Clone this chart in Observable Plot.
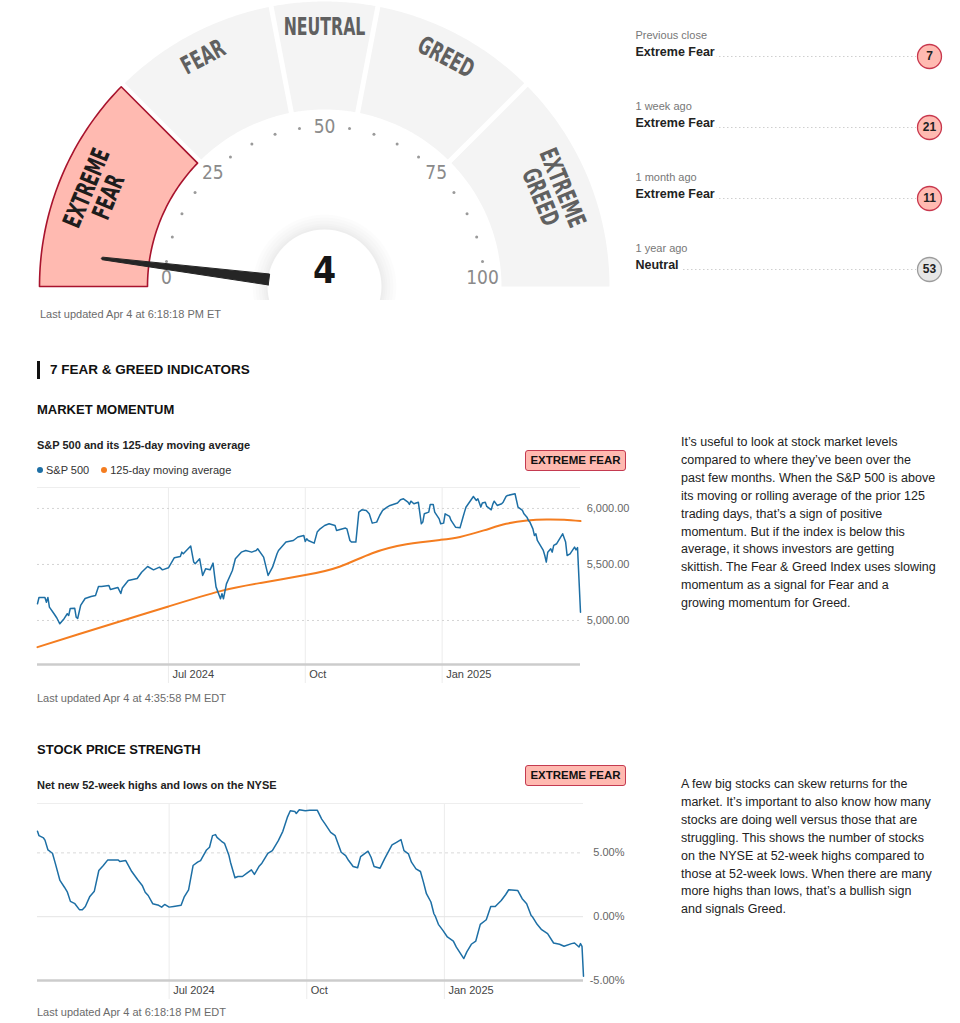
<!DOCTYPE html>
<html><head><meta charset="utf-8">
<script src="https://cdn.jsdelivr.net/npm/d3@7"></script>
<script src="https://cdn.jsdelivr.net/npm/@observablehq/plot@0.6"></script>
<style>
body{margin:0;background:#fff;font-family:"Liberation Sans",Arial,Helvetica,sans-serif;}
#page{position:relative;width:960px;height:1023px;overflow:hidden;background:#fff;}
.abs{position:absolute;white-space:nowrap;}
.badge{position:absolute;width:99px;height:19px;line-height:19px;text-align:center;font-weight:bold;font-size:11.5px;color:#111;background:#ffb9b0;border:1px solid #c43a50;border-radius:3px;}
.para{position:absolute;font-size:12.5px;line-height:17.9px;color:#222;white-space:nowrap;}
.legend-dot{display:inline-block;width:6px;height:6px;border-radius:50%;margin-right:3px;vertical-align:1px;}
</style></head>
<body><div id="page"></div>
<script>
// ---------------- DATA ----------------
const gaugeSegmentLabels = ["EXTREME\nFEAR", "FEAR", "NEUTRAL", "GREED", "EXTREME\nGREED"];
const gaugeSegmentBounds = [0, 25, 44, 56, 75, 100];
const gaugeTickLabels = [0, 25, 50, 75, 100];
const currentValue = 4;

const historyWhen = ["Previous close", "1 week ago", "1 month ago", "1 year ago"];
const historyRating = ["Extreme Fear", "Extreme Fear", "Extreme Fear", "Neutral"];
const historyValue = [7, 21, 11, 53];

const xDomain = ["2024-04-04", "2025-04-04"];
const xTickDates = ["2024-07-01", "2024-10-01", "2025-01-01"];
const xTickLabels = ["Jul 2024", "Oct", "Jan 2025"];

const spxTicks = [5000, 5500, 6000];
const spxDomain = [4607, 6187];
const spxDates = ["2024-04-04","2024-04-05","2024-04-09","2024-04-10","2024-04-11","2024-04-12","2024-04-15","2024-04-17","2024-04-19","2024-04-22","2024-04-24","2024-04-25","2024-04-26","2024-04-29","2024-04-30","2024-05-01","2024-05-03","2024-05-06","2024-05-10","2024-05-13","2024-05-15","2024-05-17","2024-05-22","2024-05-23","2024-05-28","2024-05-30","2024-05-31","2024-06-04","2024-06-10","2024-06-13","2024-06-17","2024-06-21","2024-06-25","2024-06-27","2024-07-01","2024-07-05","2024-07-09","2024-07-10","2024-07-11","2024-07-16","2024-07-18","2024-07-19","2024-07-22","2024-07-24","2024-07-26","2024-07-29","2024-07-31","2024-08-01","2024-08-02","2024-08-05","2024-08-06","2024-08-07","2024-08-09","2024-08-13","2024-08-15","2024-08-19","2024-08-22","2024-08-26","2024-08-29","2024-08-30","2024-09-03","2024-09-06","2024-09-09","2024-09-12","2024-09-13","2024-09-18","2024-09-23","2024-09-26","2024-09-30","2024-10-01","2024-10-02","2024-10-03","2024-10-07","2024-10-09","2024-10-11","2024-10-14","2024-10-17","2024-10-21","2024-10-22","2024-10-28","2024-10-29","2024-10-31","2024-11-01","2024-11-04","2024-11-06","2024-11-08","2024-11-11","2024-11-13","2024-11-15","2024-11-18","2024-11-20","2024-11-22","2024-11-25","2024-11-27","2024-12-02","2024-12-04","2024-12-06","2024-12-09","2024-12-10","2024-12-11","2024-12-13","2024-12-16","2024-12-18","2024-12-19","2024-12-20","2024-12-23","2024-12-24","2024-12-26","2024-12-27","2024-12-30","2024-12-31","2025-01-02","2025-01-03","2025-01-06","2025-01-07","2025-01-10","2025-01-13","2025-01-15","2025-01-16","2025-01-17","2025-01-22","2025-01-24","2025-01-25","2025-01-27","2025-01-28","2025-01-30","2025-01-31","2025-02-03","2025-02-04","2025-02-05","2025-02-07","2025-02-10","2025-02-11","2025-02-13","2025-02-14","2025-02-19","2025-02-21","2025-02-24","2025-02-25","2025-02-27","2025-02-28","2025-03-01","2025-03-03","2025-03-04","2025-03-05","2025-03-06","2025-03-10","2025-03-11","2025-03-12","2025-03-13","2025-03-15","2025-03-16","2025-03-17","2025-03-19","2025-03-23","2025-03-25","2025-03-26","2025-03-28","2025-03-31","2025-04-01","2025-04-02","2025-04-04"];
const spxValues = [5149,5205,5205,5163,5205,5119,5062,5022,4970,5018,5060,5045,5107,5110,5030,5018,5134,5196,5214,5223,5304,5304,5312,5277,5295,5241,5290,5357,5375,5431,5482,5452,5476,5452,5470,5560,5571,5610,5595,5664,5521,5506,5550,5402,5461,5452,5512,5402,5300,5194,5238,5194,5327,5446,5551,5610,5625,5610,5625,5640,5565,5402,5476,5595,5625,5700,5714,5745,5759,5705,5729,5714,5690,5789,5818,5848,5863,5848,5804,5825,5818,5714,5700,5700,5967,5988,5982,5952,5869,5878,5937,5982,6011,6027,6048,6078,6086,6056,6036,6065,6042,6056,5863,5878,5952,5967,6036,6036,5967,5907,5863,5869,5952,5929,5893,5833,5827,5922,5967,6011,6107,6071,6086,6012,6048,6056,6018,5988,6036,6065,6027,6042,6056,6107,6116,6131,6012,5982,5952,5922,5893,5878,5818,5759,5774,5714,5625,5580,5521,5610,5640,5610,5670,5685,5774,5700,5580,5595,5655,5630,5650,5074];

const maDates = ["2024-04-04","2024-05-01","2024-06-01","2024-07-01","2024-08-05","2024-09-01","2024-10-01","2024-10-24","2024-11-15","2024-12-08","2024-12-31","2025-01-13","2025-01-29","2025-02-13","2025-02-27","2025-03-12","2025-03-24","2025-04-04"];
const maValues = [4762,4875,5002,5125,5262,5335,5405,5480,5600,5680,5720,5746,5804,5863,5893,5902,5899,5887];

const nyseTicks = [-5, 0, 5];
const nyseDomain = [-5, 8.87];
const nyseDates = ["2024-04-04","2024-04-05","2024-04-08","2024-04-09","2024-04-11","2024-04-14","2024-04-16","2024-04-19","2024-04-22","2024-04-24","2024-04-26","2024-04-29","2024-05-02","2024-05-04","2024-05-06","2024-05-09","2024-05-12","2024-05-15","2024-05-18","2024-05-21","2024-05-28","2024-05-29","2024-06-02","2024-06-06","2024-06-10","2024-06-13","2024-06-15","2024-06-17","2024-06-20","2024-06-24","2024-06-26","2024-06-28","2024-07-01","2024-07-04","2024-07-09","2024-07-11","2024-07-14","2024-07-17","2024-07-20","2024-07-22","2024-07-26","2024-07-28","2024-07-30","2024-08-01","2024-08-02","2024-08-05","2024-08-07","2024-08-10","2024-08-11","2024-08-14","2024-08-16","2024-08-19","2024-08-22","2024-08-25","2024-08-27","2024-08-30","2024-09-01","2024-09-05","2024-09-08","2024-09-12","2024-09-15","2024-09-18","2024-09-20","2024-09-23","2024-09-24","2024-09-26","2024-09-30","2024-10-03","2024-10-08","2024-10-11","2024-10-13","2024-10-17","2024-10-20","2024-10-24","2024-10-27","2024-10-29","2024-11-01","2024-11-04","2024-11-06","2024-11-11","2024-11-13","2024-11-15","2024-11-19","2024-11-22","2024-11-27","2024-11-30","2024-12-03","2024-12-05","2024-12-08","2024-12-10","2024-12-13","2024-12-16","2024-12-18","2024-12-20","2024-12-23","2024-12-25","2024-12-26","2024-12-28","2024-12-31","2025-01-03","2025-01-07","2025-01-09","2025-01-14","2025-01-16","2025-01-19","2025-01-22","2025-01-25","2025-01-29","2025-02-01","2025-02-04","2025-02-08","2025-02-11","2025-02-13","2025-02-19","2025-02-22","2025-02-25","2025-02-28","2025-03-01","2025-03-04","2025-03-07","2025-03-11","2025-03-15","2025-03-19","2025-03-22","2025-03-27","2025-03-29","2025-04-01","2025-04-02","2025-04-03","2025-04-04"];
const nyseValues = [6.69,6.35,6.17,6.0,5.23,4.97,4.14,2.84,2.31,1.92,1.20,1.02,0.55,0.55,0.80,1.59,2.0,3.62,4.01,4.45,4.45,4.33,4.40,3.54,2.89,2.45,1.92,1.66,1.02,0.89,0.75,0.96,0.75,0.80,0.89,1.53,2.11,4.01,4.27,4.40,5.23,5.44,6.35,6.43,6.22,5.91,5.75,4.79,4.27,3.05,3.15,3.15,3.41,3.67,3.31,3.93,4.19,4.97,5.18,5.96,6.69,7.78,8.30,8.25,8.09,8.38,8.30,8.35,8.35,7.65,7.31,6.61,6.35,5.05,4.79,4.40,3.93,3.83,4.71,5.13,4.66,3.93,3.80,4.53,5.62,5.83,6.04,5.18,4.92,4.27,3.75,3.54,2.71,1.80,1.15,0.23,0.02,-0.60,-1.07,-1.59,-1.91,-2.38,-3.28,-2.76,-2.16,-1.91,-0.60,-0.24,0.80,0.80,1.27,1.74,2.11,2.06,1.41,1.02,0.10,-0.03,-0.60,-1.02,-1.33,-2.06,-2.16,-2.32,-2.11,-2.06,-2.38,-2.11,-2.32,-4.66];

// ---------------- HELPERS ----------------
const page = document.getElementById("page");
const SANS = '"Liberation Sans", Arial, Helvetica, sans-serif';
const NARROW = '"Liberation Sans Narrow", "Arial Narrow", "DejaVu Sans Condensed", "Liberation Sans", sans-serif';
function put(node, left, top) {
  node.style.position = "absolute";
  node.style.left = left + "px";
  node.style.top = top + "px";
  page.appendChild(node);
  return node;
}
function label(text, left, centerY, size, weight, color) {
  const d = document.createElement("div");
  d.className = "abs";
  d.textContent = text;
  const lh = Math.round(size * 1.3);
  Object.assign(d.style, {fontSize: size + "px", lineHeight: lh + "px", fontWeight: weight, color});
  return put(d, left, centerY - lh / 2);
}
const parse = s => new Date(s + "T00:00:00Z");

// ---------------- GAUGE ----------------
const GW = 620, GH = 300, gcx = 324, gcy = 286;
const Ro = 285, Ri = 177;
const ang = v => Math.PI * (1 - v / 100);

function segPolygon(a, b, i) {
  const g = 2.5, n = 48, pts = [];
  const ga = a === 0 ? 0 : g, gb = b === 100 ? 0 : g;
  const o0 = ang(a) - ga / Ro, o1 = ang(b) + gb / Ro;
  const i0 = ang(b) + gb / Ri, i1 = ang(a) - ga / Ri;
  for (let k = 0; k <= n; k++) { const t = o0 + (o1 - o0) * k / n; pts.push({seg: i, x: Ro * Math.cos(t), y: Ro * Math.sin(t)}); }
  for (let k = 0; k <= n; k++) { const t = i0 + (i1 - i0) * k / n; pts.push({seg: i, x: Ri * Math.cos(t), y: Ri * Math.sin(t)}); }
  pts.push({...pts[0]});
  return pts;
}
const activeSeg = gaugeSegmentLabels.findIndex((_, i) => currentValue >= gaugeSegmentBounds[i] && currentValue < gaugeSegmentBounds[i + 1]);
let activePts = [], otherPts = [];
gaugeSegmentLabels.forEach((_, i) => {
  const p = segPolygon(gaugeSegmentBounds[i], gaugeSegmentBounds[i + 1], i);
  if (i === activeSeg) activePts = activePts.concat(p); else otherPts = otherPts.concat(p);
});
const segLabelData = gaugeSegmentLabels.map((t, i) => {
  const mid = (gaugeSegmentBounds[i] + gaugeSegmentBounds[i + 1]) / 2;
  const r = t.includes("\n") ? 245 : 259;
  const th = ang(mid);
  return {text: t, x: r * Math.cos(th), y: r * Math.sin(th), rotate: 90 - th * 180 / Math.PI, active: i === activeSeg};
});
const tickDots = d3.range(0, 101, 5).filter(v => !gaugeTickLabels.includes(v)).map(v => ({x: 160 * Math.cos(ang(v)), y: 160 * Math.sin(ang(v))}));
const tickLabelData = gaugeTickLabels.map(v => ({v, x: 158 * Math.cos(ang(v)), y: Math.max(160 * Math.sin(ang(v)), 9)}));
const nt = ang(currentValue), ux = Math.cos(nt), uy = Math.sin(nt), px = -uy, py = ux;
const needle = [
  {x: 56 * ux + 5.5 * px, y: 56 * uy + 5.5 * py},
  {x: 224 * ux + 1.3 * px, y: 224 * uy + 1.3 * py},
  {x: 225 * ux, y: 225 * uy},
  {x: 224 * ux - 1.3 * px, y: 224 * uy - 1.3 * py},
  {x: 56 * ux - 5.5 * px, y: 56 * uy - 5.5 * py}
];
needle.push({...needle[0]});
const glowRadii = [72, 69, 66, 63, 61, 59];

const gauge = Plot.plot({
  width: GW, height: GH, margin: 0,
  x: {domain: [-gcx, GW - gcx], range: [0, GW]},
  y: {domain: [-(GH - gcy), gcy], range: [GH, 0]},
  axis: null,
  style: {fontFamily: SANS, background: "transparent"},
  marks: [
    Plot.line(otherPts, {x: "x", y: "y", z: "seg", fill: "#f4f4f4", stroke: "none"}),
    Plot.line(activePts, {x: "x", y: "y", z: "seg", fill: "#ffbab1", stroke: "#a8132d", strokeWidth: 1.6}),
    Plot.text(segLabelData, {x: "x", y: "y", text: "text", rotate: "rotate", fill: d => d.active ? "#1d1d1d" : "#606060", fontSize: 25, fontWeight: "bold", lineHeight: 0.95, fontFamily: NARROW}),
    Plot.dot(tickDots, {x: "x", y: "y", r: 1.5, fill: "#9a9a9a", stroke: "none"}),
    Plot.text(tickLabelData, {x: "x", y: "y", text: d => String(d.v), fill: "#8a8a8a", fontSize: 19, fontFamily: NARROW}),
    ...glowRadii.map(r => Plot.dot([0], {x: 0, y: 0, r, fill: "#000", fillOpacity: 0.012, stroke: "none"})),
    Plot.dot([0], {x: 0, y: 0, r: 57, fill: "#fff", stroke: "none"}),
    Plot.line(needle, {x: "x", y: "y", fill: "#252525", stroke: "#252525", strokeWidth: 1}),
    Plot.text([currentValue], {x: 0, y: 0, dy: -15, text: d => String(d), fontSize: 37, fontWeight: "bold", fill: "#161616", fontFamily: NARROW})
  ]
});
// condensed look for the segment labels
const textGroups = gauge.querySelectorAll('g[aria-label="text"]');
if (textGroups.length) textGroups[0].querySelectorAll("text").forEach(t => t.setAttribute("transform", (t.getAttribute("transform") || "") + " scale(0.7,1)"));
put(gauge, 0, 0);
label("Last updated Apr 4 at 6:18:18 PM ET", 40, 314, 11, "normal", "#6b6b6b");

// ---------------- HISTORY ----------------
const hist = historyWhen.map((w, i) => ({when: w, rating: historyRating[i], value: historyValue[i]}));
const ratingFill = r => r === "Neutral" ? "#e6e6e6" : "#ffbab1";
const ratingStroke = r => r === "Neutral" ? "#9c9c9c" : "#c8374d";
const history = Plot.plot({
  width: 340, height: 290, margin: 0,
  x: {domain: [0, 340], range: [0, 340]},
  y: {type: "point", domain: historyWhen, range: [35, 248], padding: 0},
  color: {type: "identity"},
  axis: null,
  style: {fontFamily: SANS, background: "transparent"},
  marks: [
    Plot.ruleY(hist, {y: "when", dy: 21, x1: 15, x2: 296, stroke: "#cfcfcf", strokeDasharray: "1.5,2.5"}),
    Plot.text(hist, {x: 15, y: "when", text: "when", textAnchor: "start", fill: "#777", fontSize: 11}),
    Plot.text(hist, {x: 15, y: "when", dy: 16.5, text: "rating", textAnchor: "start", fontWeight: "bold", fontSize: 12.5, fill: "#222", stroke: "white", strokeWidth: 8}),
    Plot.dot(hist, {x: 309, y: "when", dy: 21, r: 12, fill: d => ratingFill(d.rating), stroke: d => ratingStroke(d.rating), strokeWidth: 1.3}),
    Plot.text(hist, {x: 309, y: "when", dy: 21, text: d => String(d.value), fontWeight: "bold", fontSize: 12, fill: "#222"})
  ]
});
put(history, 620, 0);

// ---------------- SECTION HEADERS ----------------
const bar = document.createElement("div");
Object.assign(bar.style, {width: "3px", height: "18px", background: "#111"});
put(bar, 37, 361);
label("7 FEAR & GREED INDICATORS", 50, 370, 13.5, "bold", "#111");
label("MARKET MOMENTUM", 37, 409, 13, "bold", "#111");
label("S&P 500 and its 125-day moving average", 37, 445, 11, "bold", "#222");

const legend = document.createElement("div");
legend.className = "abs";
legend.style.fontSize = "11px";
legend.style.lineHeight = "14px";
legend.style.color = "#333";
legend.innerHTML = '<span class="legend-dot" style="background:#1d6fa5"></span>S&amp;P 500<span style="display:inline-block;width:12px"></span><span class="legend-dot" style="background:#f47d20"></span>125-day moving average';
put(legend, 37, 463);

function badge(top) { const b = document.createElement("div"); b.className = "badge"; b.textContent = "EXTREME FEAR"; put(b, 525, top); }
badge(450);

// ---------------- CHART 1 ----------------
const xDom = xDomain.map(parse);
const xTicks = xTickDates.map(parse);
const spxRows = spxDates.map((d, i) => ({date: parse(d), value: spxValues[i]}));
const maRows = maDates.map((d, i) => ({date: parse(d), value: maValues[i]}));
const chart1 = Plot.plot({
  width: 640, height: 215, marginLeft: 37, marginRight: 60, marginTop: 7, marginBottom: 31,
  x: {type: "utc", domain: xDom}, y: {domain: spxDomain}, axis: null,
  style: {fontFamily: SANS, background: "transparent"},
  marks: [
    Plot.ruleX(xTicks, {x: d => d, stroke: "#ececec", insetBottom: -19}),
    Plot.ruleY(spxTicks, {y: d => d, stroke: "#d4d4d4", strokeDasharray: "2,3"}),
    Plot.ruleY([spxDomain[1]], {y: d => d, stroke: "#eeeeee"}),
    Plot.line(maRows, {x: "date", y: "value", stroke: "#f47d20", strokeWidth: 2, curve: "natural"}),
    Plot.line(spxRows, {x: "date", y: "value", stroke: "#1d6fa5", strokeWidth: 1.5}),
    Plot.ruleY([spxDomain[0]], {y: d => d, stroke: "#cccccc", strokeWidth: 2.5}),
    Plot.text(xTicks, {x: d => d, text: (d, i) => xTickLabels[i], frameAnchor: "bottom", dy: 13, dx: 4, textAnchor: "start", fill: "#444", fontSize: 11}),
    Plot.text(spxTicks, {y: d => d, text: d => d3.format(",.2f")(d), frameAnchor: "right", dx: 49, textAnchor: "end", fill: "#666", fontSize: 11})
  ]
});
put(chart1, 0, 480);
label("Last updated Apr 4 at 4:35:58 PM EDT", 37, 698, 11, "normal", "#6b6b6b");

const para1 = ["It’s useful to look at stock market levels", "compared to where they’ve been over the", "past few months. When the S&P 500 is above", "its moving or rolling average of the prior 125", "trading days, that’s a sign of positive", "momentum. But if the index is below this", "average, it shows investors are getting", "skittish. The Fear & Greed Index uses slowing", "momentum as a signal for Fear and a", "growing momentum for Greed."];
const p1 = document.createElement("div"); p1.className = "para";
p1.innerHTML = para1.map(s => s.replace(/&/g, "&amp;")).join("<br>");
put(p1, 681, 434);

// ---------------- CHART 2 ----------------
label("STOCK PRICE STRENGTH", 37, 749, 13, "bold", "#111");
label("Net new 52-week highs and lows on the NYSE", 37, 785, 11, "bold", "#222");
badge(765);
const nyseRows = nyseDates.map((d, i) => ({date: parse(d), value: nyseValues[i]}));
const chart2 = Plot.plot({
  width: 640, height: 215, marginLeft: 37, marginRight: 57, marginTop: 7, marginBottom: 31,
  x: {type: "utc", domain: xDom}, y: {domain: nyseDomain}, axis: null,
  style: {fontFamily: SANS, background: "transparent"},
  marks: [
    Plot.ruleX(xTicks, {x: d => d, stroke: "#ececec", insetBottom: -19}),
    Plot.ruleY(nyseTicks.filter(v => v > 0), {y: d => d, stroke: "#d9d9d9", strokeDasharray: "3,3"}),
    Plot.ruleY(nyseTicks.filter(v => v === 0), {y: d => d, stroke: "#e4e4e4"}),
    Plot.ruleY([nyseDomain[1]], {y: d => d, stroke: "#eeeeee"}),
    Plot.ruleY([nyseDomain[0]], {y: d => d, stroke: "#cccccc", strokeWidth: 2.5}),
    Plot.line(nyseRows, {x: "date", y: "value", stroke: "#1d6fa5", strokeWidth: 1.5}),
    Plot.text(xTicks, {x: d => d, text: (d, i) => xTickLabels[i], frameAnchor: "bottom", dy: 13, dx: 4, textAnchor: "start", fill: "#444", fontSize: 11}),
    Plot.text(nyseTicks, {y: d => d, text: d => d.toFixed(2) + "%", frameAnchor: "right", dx: 41, textAnchor: "end", fill: "#666", fontSize: 11})
  ]
});
put(chart2, 0, 796);
label("Last updated Apr 4 at 6:18:18 PM EDT", 37, 1012, 11, "normal", "#6b6b6b");

const para2 = ["A few big stocks can skew returns for the", "market. It’s important to also know how many", "stocks are doing well versus those that are", "struggling. This shows the number of stocks", "on the NYSE at 52-week highs compared to", "those at 52-week lows. When there are many", "more highs than lows, that’s a bullish sign", "and signals Greed."];
const p2 = document.createElement("div"); p2.className = "para";
p2.innerHTML = para2.join("<br>");
put(p2, 681, 776);
</script>
</body></html>
